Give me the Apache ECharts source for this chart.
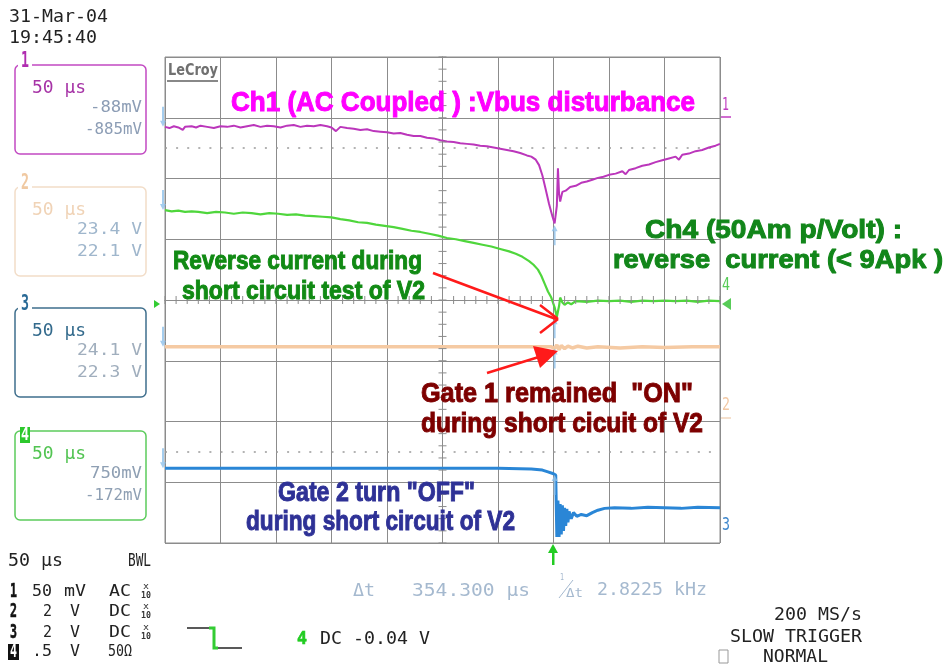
<!DOCTYPE html>
<html>
<head>
<meta charset="utf-8">
<title>Ch1 Vbus disturbance</title>
<script src="https://cdn.jsdelivr.net/npm/echarts@6/dist/echarts.min.js"></script>
<style>
  html, body { margin: 0; padding: 0; background: #fff; }
  #scopeMain { width: 949px; height: 669px; }
</style>
</head>
<body>
<div id="scopeMain"></div>
<script>
// x = time in us (50 us/div, 0 = centre), y = screen divisions (0 = centre line)
const ch1Trace = [
  [-250, 2.85], [-246, 2.83], [-242, 2.86], [-238, 2.84], [-234, 2.80], [-232, 2.85], [-226, 2.86], [-222, 2.84],
  [-218, 2.87], [-212, 2.85], [-206, 2.83], [-200, 2.86], [-194, 2.85], [-188, 2.87], [-182, 2.84], [-176, 2.86],
  [-170, 2.88], [-164, 2.85], [-158, 2.87], [-152, 2.86], [-146, 2.84], [-140, 2.87], [-134, 2.88], [-128, 2.85],
  [-122, 2.87], [-116, 2.86], [-110, 2.88], [-104, 2.86], [-100, 2.84], [-96, 2.78], [-92, 2.85], [-86, 2.83],
  [-80, 2.82], [-74, 2.80], [-68, 2.81], [-62, 2.78], [-56, 2.77], [-50, 2.76], [-44, 2.74], [-38, 2.75],
  [-32, 2.72], [-26, 2.70], [-20, 2.70], [-14, 2.67], [-8, 2.66], [-2, 2.63], [4, 2.61], [10, 2.60],
  [16, 2.58], [22, 2.57], [28, 2.56], [34, 2.54], [40, 2.53], [46, 2.51], [52, 2.49], [58, 2.47],
  [64, 2.45], [70, 2.42], [76, 2.38], [80, 2.36], [84, 2.31], [87, 2.22], [90, 2.05], [93, 1.82],
  [96, 1.58], [99, 1.38], [101, 1.26], [102, 1.23], [103, 1.55], [104, 2.17], [105, 1.75], [106, 1.62],
  [108, 1.78], [111, 1.80], [115, 1.86], [120, 1.88], [125, 1.93], [130, 1.95], [135, 1.98], [140, 2.01],
  [145, 2.03], [150, 2.06], [156, 2.08], [162, 2.12], [165, 2.07], [168, 2.14], [174, 2.17], [180, 2.21],
  [186, 2.23], [192, 2.27], [198, 2.30], [204, 2.33], [210, 2.36], [213, 2.31], [216, 2.39], [222, 2.41],
  [228, 2.45], [234, 2.47], [240, 2.51], [246, 2.54], [250, 2.57]
]
const ch2Trace = [
  [-250, -0.77], [-150, -0.77], [-50, -0.77], [50, -0.77], [98, -0.77], [101, -0.80], [103, -0.74], [105, -0.82],
  [107, -0.75], [110, -0.80], [113, -0.76], [117, -0.79], [122, -0.76], [130, -0.79], [140, -0.77], [160, -0.79],
  [180, -0.77], [200, -0.78], [225, -0.77], [250, -0.77]
]
const ch3Trace = [
  [-250, -2.77], [-200, -2.77], [-150, -2.77], [-100, -2.77], [-50, -2.77], [0, -2.77], [50, -2.77], [80, -2.78],
  [90, -2.80], [95, -2.83], [100, -2.86], [102, -2.88], [103, -3.90], [104, -3.30], [105, -3.90], [106, -3.36],
  [107, -3.86], [108, -3.38], [109, -3.80], [110, -3.42], [111, -3.72], [112, -3.44], [113, -3.66], [114, -3.48],
  [116, -3.60], [118, -3.50], [121, -3.56], [125, -3.53], [130, -3.55], [135, -3.50], [140, -3.46], [146, -3.43],
  [155, -3.42], [170, -3.43], [185, -3.41], [200, -3.42], [215, -3.43], [230, -3.41], [250, -3.42]
]
const ch4Trace = [
  [-250, 1.48], [-244, 1.46], [-238, 1.47], [-232, 1.45], [-226, 1.46], [-220, 1.45], [-212, 1.43], [-204, 1.45],
  [-196, 1.44], [-188, 1.42], [-180, 1.44], [-172, 1.43], [-164, 1.41], [-156, 1.43], [-148, 1.42], [-140, 1.40],
  [-132, 1.41], [-124, 1.39], [-116, 1.38], [-108, 1.37], [-100, 1.36], [-92, 1.33], [-84, 1.31], [-76, 1.28],
  [-68, 1.27], [-60, 1.24], [-52, 1.22], [-44, 1.20], [-36, 1.17], [-28, 1.14], [-20, 1.12], [-12, 1.09],
  [-4, 1.06], [4, 1.02], [12, 1.00], [20, 0.97], [28, 0.94], [36, 0.91], [44, 0.88], [52, 0.84],
  [60, 0.80], [66, 0.76], [72, 0.71], [78, 0.64], [82, 0.58], [86, 0.50], [89, 0.40], [92, 0.27],
  [95, 0.14], [98, 0.04], [101, -0.12], [103, -0.28], [104, -0.30], [105, -0.10], [106, 0.04], [108, -0.04],
  [110, -0.08], [113, -0.04], [116, -0.07], [120, -0.02], [130, -0.03], [140, -0.01], [150, -0.02], [160, -0.01],
  [170, -0.03], [180, -0.01], [190, -0.02], [200, -0.01], [210, -0.02], [220, -0.01], [230, -0.03], [240, -0.01],
  [250, -0.02]
]
// dotted reference lines and cursor markers
const refLevels = [2.5, -2.5]
const cursorLeftT = -250
const cursorRightT = 101
const leftMarkLevels = [2.85, 1.48, -0.77, -2.77]
const rightMarkLevels = [1.23, -0.30, -0.80, -2.88]

const MONO = '"DejaVu Sans Mono", monospace'
const BOLD = '"Liberation Sans", Arial, sans-serif'
const GRID = '#8c8c8c'
// plot area (10 x 8 divisions)
const PLOT = { left: 165, top: 57, width: 555, height: 486 }

const measure = document.createElement('canvas').getContext('2d')
// text squeezed/stretched so it spans x1..x2
function fitText (text, x1, x2, y, font, color, stroke) {
  measure.font = font
  const w = measure.measureText(text).width
  const style = { text: text, font: font, fill: color, align: 'left', verticalAlign: 'middle', textAlign: 'left', textVerticalAlign: 'middle' }
  if (stroke) {
    style.stroke = color
    style.lineWidth = stroke
  }
  return { type: 'text', x: x1, y: y, scaleX: (x2 - x1) / w, z: 20, silent: true, style: style }
}
function line (x1, y1, x2, y2, color, width) {
  return { type: 'line', z: 15, silent: true, shape: { x1: x1, y1: y1, x2: x2, y2: y2 }, style: { stroke: color, lineWidth: width } }
}
function poly (points, color) {
  return { type: 'polygon', z: 15, silent: true, shape: { points: points }, style: { fill: color } }
}

function channelBox (g, top, border, num, numColor, tbColor, vals, valX, valColor, inverse) {
  g.push({ type: 'rect', z: 10, silent: true, shape: { x: 15, y: top, width: 131, height: 89, r: 5 }, style: { fill: 'none', stroke: border, lineWidth: 1.5 } })
  if (inverse) {
    g.push({ type: 'rect', z: 11, silent: true, shape: { x: 20, y: top - 4, width: 10, height: 16 }, style: { fill: numColor } })
    g.push(fitText(num, 21, 29, top + 4, 'bold 18px ' + MONO, '#fff'))
  } else {
    g.push({ type: 'rect', z: 11, silent: true, shape: { x: 18, y: top - 10, width: 14, height: 15 }, style: { fill: '#fff' } })
    g.push(fitText(num, 21, 29, top - 3, 'bold 21px ' + MONO, numColor))
  }
  g.push(fitText('50 μs', 32, 86, top + 23, '18px ' + MONO, tbColor))
  g.push(fitText(vals[0], valX[0], 142, top + 43, '16px ' + MONO, valColor))
  g.push(fitText(vals[1], valX[1], 142, top + 65, '16px ' + MONO, valColor))
}

// small ticks on the centre cross, 5 per division
function centreTicks (g) {
  const cx = PLOT.left + PLOT.width / 2
  const cy = PLOT.top + PLOT.height / 2
  for (let i = 0; i <= 50; i++) {
    const x = PLOT.left + i * PLOT.width / 50
    g.push(line(x, cy - 4, x, cy + 4, GRID, 1))
  }
  for (let j = 0; j <= 40; j++) {
    const y = PLOT.top + j * PLOT.height / 40
    g.push(line(cx - 4, y, cx + 4, y, GRID, 1))
  }
}

function buildGraphic () {
  const g = []
  centreTicks(g)
  // header
  g.push(fitText('31-Mar-04', 9, 108, 17, '18px ' + MONO, '#222'))
  g.push(fitText('19:45:40', 9, 97, 38, '18px ' + MONO, '#222'))
  channelBox(g, 65, '#c24ac2', '1', '#b02cb0', '#a633a6', ['-88mV', '-885mV'], [90, 85], '#8c9db5')
  channelBox(g, 187, '#f2ddc8', '2', '#f0c9a2', '#f0d3b6', ['23.4 V', '22.1 V'], [77, 77], '#9fb6cc')
  channelBox(g, 308, '#3f6f8d', '3', '#2a6a96', '#336a8c', ['24.1 V', '22.3 V'], [77, 77], '#a0aebd')
  channelBox(g, 431, '#5ccc5c', '4', '#2dc82d', '#52c452', ['750mV', '-172mV'], [90, 85], '#8e9fb3', true)

  // bottom left setup table
  g.push(fitText('50 μs', 8, 63, 561, '18px ' + MONO, '#222'))
  g.push(fitText('BWL', 128, 151, 561, '18px ' + MONO, '#222'))
  const rowY = [592, 612, 633, 652]
  const rows = [['1', '50', 32, 'mV', 64, 86, 'AC'], ['2', '2', 43, 'V', 70, 80, 'DC'], ['3', '2', 43, 'V', 70, 80, 'DC'], ['4', '.5', 32, 'V', 70, 80, '50Ω']]
  rows.forEach(function (r, i) {
    const y = rowY[i]
    if (i === 3) {
      g.push({ type: 'rect', z: 11, silent: true, shape: { x: 8, y: y - 8, width: 11, height: 16 }, style: { fill: '#111' } })
      g.push(fitText(r[0], 10, 17, y, 'bold 19px ' + MONO, '#fff'))
      g.push(fitText(r[6], 108, 132, y, '16px ' + MONO, '#222'))
    } else {
      g.push(fitText(r[0], 10, 17, y, 'bold 20px ' + MONO, '#111', 0.6))
      g.push(fitText(r[6], 109, 131, y, '16px ' + MONO, '#222'))
      g.push(fitText('x', 143, 149, y - 5, '8px ' + MONO, '#333'))
      g.push(fitText('10', 141, 151, y + 4, 'bold 9px ' + MONO, '#333'))
    }
    g.push(fitText(r[1], r[2], 52, y, '16px ' + MONO, '#222'))
    g.push(fitText(r[3], r[4], r[5], y, '16px ' + MONO, '#222'))
  })

  // trigger symbol + coupling
  g.push(line(187, 628, 210, 628, '#222', 1.5))
  g.push({ type: 'polyline', z: 15, silent: true, shape: { points: [[209, 628], [214, 628], [214, 648], [218, 648]] }, style: { stroke: '#33cc33', lineWidth: 3, fill: null } })
  g.push(line(218, 648, 242, 648, '#222', 1.5))
  g.push(fitText('4', 297, 307, 639, 'bold 18px ' + MONO, '#22cc22', 0.6))
  g.push(fitText('DC -0.04 V', 320, 430, 639, '18px ' + MONO, '#222'))

  // cursor readout
  const cur = '#a5b9cf'
  g.push(fitText('Δt', 353, 375, 591, '18px ' + MONO, cur))
  g.push(fitText('354.300 μs', 412, 530, 591, '18px ' + MONO, cur))
  g.push(fitText('1', 560, 564, 578, '9px ' + MONO, cur))
  g.push(line(559, 598, 573, 580, cur, 1))
  g.push(fitText('Δt', 566, 583, 594, '13px ' + MONO, cur))
  g.push(fitText('2.8225 kHz', 597, 707, 590, '18px ' + MONO, cur))

  // acquisition status
  g.push(fitText('200 MS/s', 774, 862, 615, '18px ' + MONO, '#222'))
  g.push(fitText('SLOW TRIGGER', 730, 862, 637, '18px ' + MONO, '#222'))
  g.push(fitText('NORMAL', 763, 828, 657, '18px ' + MONO, '#222'))
  g.push({ type: 'rect', z: 11, silent: true, shape: { x: 719, y: 650, width: 9, height: 13 }, style: { fill: 'none', stroke: '#999', lineWidth: 1 } })

  // LeCroy logo
  g.push(fitText('LeCroy', 168, 218, 71, 'bold 15px "DejaVu Sans"', '#707070'))
  g.push({ type: 'rect', z: 11, silent: true, shape: { x: 167, y: 80, width: 51, height: 2 }, style: { fill: '#888' } })

  // channel tags on the right edge
  g.push(fitText('1', 722, 729, 105, '18px ' + MONO, '#c03cc0'))
  g.push(line(721, 117, 731, 117, '#c03cc0', 1.5))
  g.push(fitText('4', 722, 730, 285, '18px ' + MONO, '#58cc58'))
  g.push(poly([[731, 298], [731, 310], [722, 304]], '#58cc58'))
  g.push(fitText('2', 722, 730, 405, '18px ' + MONO, '#f2c8a4'))
  g.push(line(721, 418, 731, 418, '#f2d6bc', 1.5))
  g.push(fitText('3', 722, 730, 525, '18px ' + MONO, '#3d86cc'))
  // trigger level (left) and trigger time (bottom)
  g.push(poly([[154, 300], [154, 308], [160, 304]], '#33cc33'))
  g.push(poly([[548, 553], [553, 544], [558, 553]], '#22cc22'))
  g.push({ type: 'rect', z: 15, silent: true, shape: { x: 552, y: 552, width: 2.5, height: 13 }, style: { fill: '#22cc22' } })

  // annotations
  g.push(fitText('Ch1 (AC Coupled ) :Vbus disturbance', 231, 695, 103, 'bold 28px ' + BOLD, '#ff00ff', 1))
  g.push(fitText('Ch4 (50Am p/Volt) :', 645, 902, 231, 'bold 26px ' + BOLD, '#12861a', 1))
  g.push(fitText('reverse  current (< 9Apk )', 613, 943, 261, 'bold 26px ' + BOLD, '#12861a', 1))
  g.push(fitText('Reverse current during', 173, 422, 262, 'bold 26px ' + BOLD, '#118a14', 1))
  g.push(fitText('short circuit test of V2', 182, 425, 292, 'bold 26px ' + BOLD, '#118a14', 1))
  g.push(fitText('Gate 1 remained  "ON"', 421, 693, 394, 'bold 28px ' + BOLD, '#7d0000', 1))
  g.push(fitText('during short cicuit of V2', 421, 703, 424, 'bold 28px ' + BOLD, '#7d0000', 1))
  g.push(fitText('Gate 2 turn "OFF"', 278, 475, 493, 'bold 28px ' + BOLD, '#2e3196', 1))
  g.push(fitText('during short circuit of V2', 246, 515, 522, 'bold 28px ' + BOLD, '#2e3196', 1))

  // red arrows
  const red = '#ff1a1a'
  g.push(line(433, 273, 556, 319, red, 2.5))
  g.push(line(558, 319, 540, 305, red, 2.5))
  g.push(line(558, 319, 540, 333, red, 2.5))
  g.push(line(487, 373, 542, 356, red, 2.5))
  g.push(poly([[558, 351], [533, 346], [540, 368]], red))
  return g
}

function xAxisOf (pos, main) {
  return {
    type: 'value', min: -250, max: 250, interval: 50, position: pos,
    axisLine: { show: true, onZero: true, onZeroAxisIndex: 0, lineStyle: { color: GRID, width: 1 } },
    axisTick: { show: false },
    axisLabel: { show: false },
    splitLine: { show: main, lineStyle: { color: GRID, width: 1 } }
  }
}
function yAxisOf (pos, main) {
  return {
    type: 'value', min: -4, max: 4, interval: 1, position: pos,
    axisLine: { show: true, onZero: true, onZeroAxisIndex: 0, lineStyle: { color: GRID, width: 1 } },
    axisTick: { show: false },
    axisLabel: { show: false },
    splitLine: { show: main, lineStyle: { color: GRID, width: 1 } }
  }
}

function traceSeries (name, data, color, width, z) {
  return {
    name: name, type: 'line', data: data, showSymbol: false, z: z,
    lineStyle: { color: color, width: width }, itemStyle: { color: color }
  }
}

function option () {
  const ch2 = traceSeries('Ch2', ch2Trace, '#f5caa3', 3.5, 3)
  ch2.markLine = {
    silent: true, symbol: ['none', 'none'], label: { show: false },
    lineStyle: { color: '#9a9a9a', type: [2, 9.1], width: 1.5 },
    data: refLevels.map(function (v) { return { yAxis: v } })
  }
  return {
    backgroundColor: '#fff',
    animation: false,
    grid: { left: PLOT.left, top: PLOT.top, width: PLOT.width, height: PLOT.height, show: true, borderColor: GRID, borderWidth: 1, backgroundColor: 'transparent' },
    xAxis: [xAxisOf('bottom', true), xAxisOf('top', false)],
    yAxis: [yAxisOf('left', true), yAxisOf('right', false)],
    series: [
      ch2,
      traceSeries('Ch3', ch3Trace, '#2a86d6', 3, 4),
      traceSeries('Ch4', ch4Trace, '#4fd63c', 2.2, 5),
      traceSeries('Ch1', ch1Trace, '#bb36bb', 2, 6),
      {
        name: 'cursor A', type: 'scatter', z: 7, clip: false,
        symbol: 'path://M2,0 L4,0 L4,14 L6,14 L3,20 L0,14 L2,14 Z', symbolSize: [6, 20], symbolOffset: [-2, -10],
        itemStyle: { color: '#8fc0ea' },
        data: leftMarkLevels.map(function (v) { return [cursorLeftT, v] })
      },
      {
        name: 'cursor B', type: 'scatter', z: 7, clip: false,
        symbol: 'path://M3,0 L6,6 L4,6 L4,20 L2,20 L2,6 L0,6 Z', symbolSize: [6, 20], symbolOffset: [0, 10],
        itemStyle: { color: '#8fc0ea' },
        data: rightMarkLevels.map(function (v) { return [cursorRightT, v] })
      }
    ],
    graphic: buildGraphic()
  }
}

function initChart () {
  const chart = echarts.init(document.getElementById('scopeMain'), null, { renderer: 'canvas' })
  chart.setOption(option(), true)
  return chart
}
initChart()
</script>
</body>
</html>
